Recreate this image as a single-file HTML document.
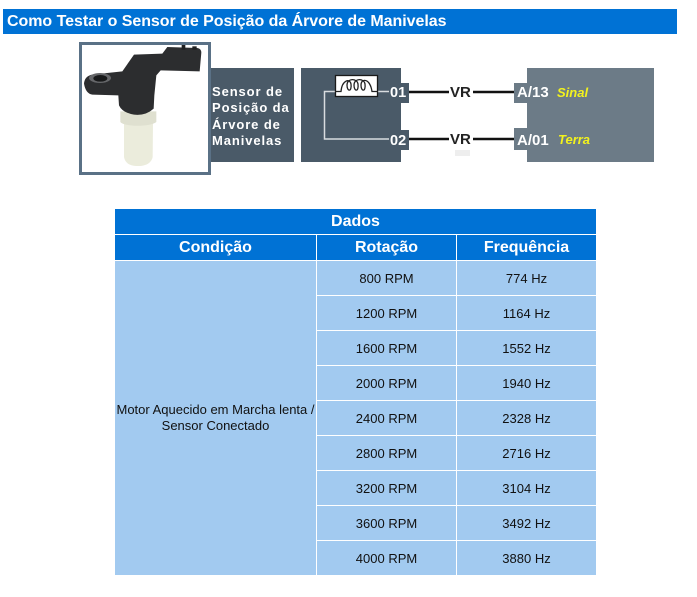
<!DOCTYPE html>
<html>
<head>
<meta charset="utf-8">
<style>
html,body{margin:0;padding:0;background:#fff;}
body{width:697px;height:597px;position:relative;overflow:hidden;font-family:"Liberation Sans",Arial,sans-serif;}
.a{position:absolute;}
.t{position:absolute;white-space:nowrap;}
.h{background:#0072d5;color:#fff;font-weight:bold;font-size:16px;text-align:center;position:absolute;}
.c{background:#a2caf0;color:#111;font-size:13px;text-align:center;position:absolute;line-height:35px;height:34px;overflow:hidden;}
</style>
</head>
<body>
<div class="a" style="left:3px;top:9px;width:674px;height:25px;background:#0072d5;"></div>
<div class="t" style="left:7px;top:12px;color:#fff;font-weight:bold;font-size:16px;line-height:19px;letter-spacing:-.04px;">Como Testar o Sensor de Posição da Árvore de Manivelas</div>

<div class="a" style="left:79px;top:42px;width:126px;height:127px;border:3px solid #5a7186;background:#fff;"></div>
<svg class="a" style="left:79px;top:42px;" width="132" height="133" viewBox="0 0 396 399">
  <path d="M135 240 L135 345 C138 362 150 372 178 372 C205 372 218 360 221 345 L222 240 Z" fill="#ebecdc"/>
  <path d="M124 208 L124 240 C135 255 215 255 232 240 L232 208 Z" fill="#dfe0d0"/>
  <path d="M15 125 Q17 102 40 98 L95 92 L130 88 L165 38 L250 35 L265 15 L355 18 Q367 20 367 32 L362 88 L245 85 L232 100 L226 160 L224 200 Q200 222 165 218 Q130 212 120 190 L118 160 L40 158 Q20 155 15 125 Z" fill="#2c2d2f"/>
  <ellipse cx="63" cy="108" rx="33" ry="15" fill="#66676a"/>
  <ellipse cx="64" cy="109" rx="21" ry="10" fill="#18191a"/>
  <rect x="308" y="9" width="11" height="14" fill="#1e1f20"/>
  <rect x="340" y="13" width="13" height="10" fill="#1e1f20"/>
</svg>

<div class="a" style="left:211px;top:68px;width:83px;height:94px;background:#4a5a68;"></div>
<div class="t" style="left:212px;top:84px;color:#fff;font-weight:bold;font-size:13px;line-height:16.400px;letter-spacing:.9px;">Sensor de<br>Posição da<br>Árvore de<br>Manivelas</div>

<div class="a" style="left:301px;top:68px;width:100px;height:94px;background:#4a5a68;"></div>
<div class="a" style="left:389px;top:83px;width:20px;height:20px;background:#4a5a68;"></div>
<div class="a" style="left:389px;top:130px;width:20px;height:20px;background:#4a5a68;"></div>
<div class="a" style="left:527px;top:68px;width:127px;height:94px;background:#6c7b87;"></div>
<div class="a" style="left:514px;top:83px;width:13px;height:20px;background:#6c7b87;"></div>
<div class="a" style="left:514px;top:128px;width:13px;height:22px;background:#6c7b87;"></div>

<svg class="a" style="left:0;top:0;" width="697" height="597">
  <path d="M389 91.500 H378 M335 91.500 H324.500 V139 H389" fill="none" stroke="#d8dcdf" stroke-width="1.500"/>
  <rect x="335" y="75" width="43" height="22" fill="#fff"/>
  <rect x="335.500" y="75.500" width="42" height="21" fill="none" stroke="#1a1a1a" stroke-width="1.300"/>
  <path d="M335 91.500 H341 C342 80 350 78 351 84 C352 92 347 92 347 85 C347 78 357 78 358 84 C359 92 354 92 354 85 C354 78 364 78 365 84 C366 92 361 92 361 85 C361 78 370 78 372 91.500 H378" fill="none" stroke="#222" stroke-width="1.300"/>
  <path d="M409 92 H449 M473 92 H514 M409 139 H449 M473 139 H514" stroke="#111" stroke-width="2.500" fill="none"/>
  <rect x="455" y="150" width="15" height="6" fill="#eee"/>
</svg>

<div class="t" style="left:390px;top:84px;color:#fff;font-weight:bold;font-size:14.500px;line-height:18px;">01</div>
<div class="t" style="left:390px;top:132px;color:#fff;font-weight:bold;font-size:14.500px;line-height:18px;">02</div>
<div class="t" style="left:450px;top:84px;color:#222;font-weight:bold;font-size:15px;line-height:18px;">VR</div>
<div class="t" style="left:450px;top:131px;color:#222;font-weight:bold;font-size:15px;line-height:18px;">VR</div>
<div class="t" style="left:517px;top:84px;color:#fff;font-weight:bold;font-size:15px;line-height:18px;">A/13</div>
<div class="t" style="left:517px;top:132px;color:#fff;font-weight:bold;font-size:15px;line-height:18px;">A/01</div>
<div class="t" style="left:557px;top:85px;color:#f2f21e;font-weight:bold;font-style:italic;font-size:13px;line-height:16px;">Sinal</div>
<div class="t" style="left:558px;top:132px;color:#f2f21e;font-weight:bold;font-style:italic;font-size:13px;line-height:16px;">Terra</div>

<div class="h" style="left:115px;top:209px;width:481px;height:25px;line-height:25px;">Dados</div>
<div class="h" style="left:115px;top:235px;width:201px;height:25px;line-height:25px;">Condição</div>
<div class="h" style="left:317px;top:235px;width:139px;height:25px;line-height:25px;">Rotação</div>
<div class="h" style="left:457px;top:235px;width:139px;height:25px;line-height:25px;">Frequência</div>

<div class="a" style="left:115px;top:261px;width:201px;height:314px;background:#a2caf0;"></div>
<div class="t" style="left:115px;top:402px;width:201px;text-align:center;color:#111;font-size:13px;line-height:16px;">Motor Aquecido em Marcha lenta /<br>Sensor Conectado</div>

<div class="c" style="left:317px;top:261px;width:139px;">800 RPM</div><div class="c" style="left:457px;top:261px;width:139px;">774 Hz</div>
<div class="c" style="left:317px;top:296px;width:139px;">1200 RPM</div><div class="c" style="left:457px;top:296px;width:139px;">1164 Hz</div>
<div class="c" style="left:317px;top:331px;width:139px;">1600 RPM</div><div class="c" style="left:457px;top:331px;width:139px;">1552 Hz</div>
<div class="c" style="left:317px;top:366px;width:139px;">2000 RPM</div><div class="c" style="left:457px;top:366px;width:139px;">1940 Hz</div>
<div class="c" style="left:317px;top:401px;width:139px;">2400 RPM</div><div class="c" style="left:457px;top:401px;width:139px;">2328 Hz</div>
<div class="c" style="left:317px;top:436px;width:139px;">2800 RPM</div><div class="c" style="left:457px;top:436px;width:139px;">2716 Hz</div>
<div class="c" style="left:317px;top:471px;width:139px;">3200 RPM</div><div class="c" style="left:457px;top:471px;width:139px;">3104 Hz</div>
<div class="c" style="left:317px;top:506px;width:139px;">3600 RPM</div><div class="c" style="left:457px;top:506px;width:139px;">3492 Hz</div>
<div class="c" style="left:317px;top:541px;width:139px;">4000 RPM</div><div class="c" style="left:457px;top:541px;width:139px;">3880 Hz</div>
</body>
</html>
